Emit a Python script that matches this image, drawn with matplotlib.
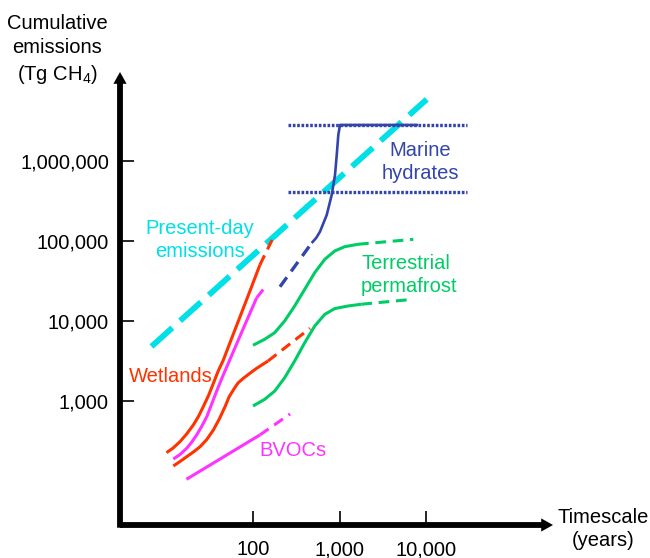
import matplotlib
matplotlib.use('Agg')
import matplotlib.pyplot as plt
from matplotlib.patches import FancyArrowPatch
from matplotlib.ticker import NullLocator

plt.rcParams['font.family'] = ['Liberation Sans', 'DejaVu Sans']
plt.rcParams['mathtext.fontset'] = 'custom'
plt.rcParams['mathtext.rm'] = 'Liberation Sans'
plt.rcParams['mathtext.it'] = 'Liberation Sans:italic'
plt.rcParams['mathtext.bf'] = 'Liberation Sans:bold'

# ---------------- data (timescale in years, cumulative emissions in Tg CH4) -------------
present_t = [6.7, 10200]
present_v = [4800, 5.9e6]

wet_up_t = [10.0, 11.9, 14.3, 17.1, 20.4, 23.4, 26.6, 30.6, 34.8, 39.4, 45.4, 55.7, 75.8, 93.1, 120]
wet_up_v = [226, 258, 310, 387, 501, 640, 849, 1170, 1660, 2340, 3250, 5790, 13700, 24400, 50100]
wet_up_ext_t = [120, 166]
wet_up_ext_v = [50100, 103000]

wet_lo_t = [12, 14.3, 17.1, 20.4, 24.4, 29.2, 34.8, 40.5, 47.5, 52.8, 59.1, 63.5, 67.1, 77.2, 92, 110, 149]
wet_lo_v = [154, 175, 201, 230, 268, 330, 434, 587, 849, 1120, 1370, 1540, 1680, 1920, 2220, 2560, 3160]
wet_lo_ext_t = [149, 456]
wet_lo_ext_v = [3160, 8110]

mag_up_t = [12.0, 14.3, 17.1, 19.6, 22.3, 25.5, 29.2, 33.3, 38.0, 43.8, 51.4, 70.8, 110]
mag_up_v = [188, 214, 256, 307, 376, 480, 636, 917, 1330, 1940, 2900, 6490, 19400]
mag_up_ext_t = [110, 141]
mag_up_ext_v = [19400, 27400]

bvoc_t = [17, 120]
bvoc_v = [105, 376]
bvoc_ext_t = [120, 268]
bvoc_ext_v = [376, 688]

perm_up_t = [100, 136.5, 178, 232, 303, 396, 517, 675, 880, 1148, 1636]
perm_up_v = [4970, 5910, 7140, 10000, 15400, 24900, 40200, 59000, 75000, 84900, 91000]
perm_up_ext_t = [1636, 7130]
perm_up_ext_v = [91000, 105000]

perm_lo_t = [100, 136.5, 178, 232, 303, 396, 517, 675, 880, 1254, 1786]
perm_lo_v = [866, 1050, 1330, 1950, 3160, 5350, 8660, 12100, 14300, 15400, 16200]
perm_lo_ext_t = [1786, 7130]
perm_lo_ext_v = [16200, 18700]

hyd_ext_t = [205, 477]
hyd_ext_v = [26800, 94400]
hyd_t = [477, 540, 595, 711, 812, 887, 929, 968, 1013, 8090]
hyd_v = [94400, 110000, 131000, 211000, 376000, 668000, 1.19e6, 2.11e6, 2.82e6, 2.82e6]

hyd_bound_t = [254, 29800]
hyd_bound_upper = 2.82e6
hyd_bound_lower = 4.06e5

x_ticks = [100, 1000, 10000]
x_labels = ['100', '1,000', '10,000']
y_ticks = [1e3, 1e4, 1e5, 1e6]
y_labels = ['1,000', '10,000', '100,000', '1,000,000']

# ---------------- colours ----------------
RED = '#FF3300'
MAG = '#FF33FF'
CYAN = '#00E0E6'
BLUE = '#3345AA'
GREEN = '#00CC66'

W, H = 650, 558
fig = plt.figure(figsize=(W / 100, H / 100), dpi=100)
ax = fig.add_axes([120 / W, (H - 525) / H, (553 - 120) / W, (525 - 72) / H])
ax.set_xscale('log')
ax.set_yscale('log')
ax.set_xlim(10 ** 0.4624, 10 ** 5.468)
ax.set_ylim(10 ** 1.45, 10 ** 7.1125)
for s in ax.spines.values():
    s.set_visible(False)
ax.patch.set_alpha(0)

fs = 14.5
ax.set_xticks(x_ticks)
ax.set_xticklabels(x_labels)
ax.set_yticks(y_ticks)
ax.set_yticklabels(y_labels)
ax.xaxis.set_minor_locator(NullLocator())
ax.yaxis.set_minor_locator(NullLocator())
ax.tick_params(axis='both', direction='in', length=10, width=1.2, labelsize=fs,
               colors='black')
ax.tick_params(axis='x', pad=11)
ax.tick_params(axis='y', pad=8)

# axes arrows
for start, end in [((0, -0.006), (0, 1)), ((0, 0), (1, 0))]:
    arr = FancyArrowPatch(start, end, transform=ax.transAxes, clip_on=False,
                          arrowstyle='Simple,tail_width=0.42,head_width=0.95,head_length=0.85',
                          mutation_scale=10, color='black', lw=0, shrinkA=0, shrinkB=0)
    ax.add_patch(arr)

lw = 2.2
dash = (3.5, 2.2)
kw = dict(solid_joinstyle='round', solid_capstyle='butt')

# present-day emissions
ax.plot(present_t, present_v, color=CYAN, lw=4.2, dashes=(4.8, 1.8),
        dash_capstyle='butt')

# marine hydrates bounds (dotted)
for v in (hyd_bound_upper, hyd_bound_lower):
    ax.plot(hyd_bound_t, [v, v], color=BLUE, lw=2.4, dashes=(0.8, 0.5),
            dash_capstyle='butt')
ax.plot(hyd_ext_t, hyd_ext_v, color=BLUE, lw=2.4, dashes=dash, dash_capstyle='butt')
ax.plot(hyd_t, hyd_v, color=BLUE, lw=1.9, **kw)

# wetlands
ax.plot(wet_up_t, wet_up_v, color=RED, lw=lw, **kw)
ax.plot(wet_up_ext_t, wet_up_ext_v, color=RED, lw=lw, dashes=dash, dash_capstyle='butt')
ax.plot(wet_lo_t, wet_lo_v, color=RED, lw=lw, **kw)
ax.plot(wet_lo_ext_t, wet_lo_ext_v, color=RED, lw=lw, dashes=dash, dash_capstyle='butt')

# magenta
ax.plot(mag_up_t, mag_up_v, color=MAG, lw=lw, **kw)
ax.plot(mag_up_ext_t, mag_up_ext_v, color=MAG, lw=lw, dashes=dash, dash_capstyle='butt')
ax.plot(bvoc_t, bvoc_v, color=MAG, lw=lw, **kw)
ax.plot(bvoc_ext_t, bvoc_ext_v, color=MAG, lw=lw, dashes=dash, dash_capstyle='butt')

# permafrost
ax.plot(perm_up_t, perm_up_v, color=GREEN, lw=lw, **kw)
ax.plot(perm_up_ext_t, perm_up_ext_v, color=GREEN, lw=lw, dashes=dash, dash_capstyle='butt')
ax.plot(perm_lo_t, perm_lo_v, color=GREEN, lw=lw, **kw)
ax.plot(perm_lo_ext_t, perm_lo_ext_v, color=GREEN, lw=lw, dashes=dash, dash_capstyle='butt')

# labels
ls2 = 1.32
ax.text(24.4, 1.03e5, 'Present-day\nemissions', color=CYAN, fontsize=fs,
        ha='center', va='center', linespacing=ls2)
ax.text(8530, 9.72e5, 'Marine\nhydrates', color=BLUE, fontsize=fs,
        ha='center', va='center', linespacing=ls2)
ax.text(1773, 3.76e4, 'Terrestrial\npermafrost', color=GREEN, fontsize=fs,
        ha='left', va='center', linespacing=1.22)
ax.text(3.68, 2000, 'Wetlands', color=RED, fontsize=fs, ha='left', va='center')
ax.text(117, 244, 'BVOCs', color=MAG, fontsize=fs, ha='left', va='center')

fig.text(57 / W, 1 - 50 / H, 'Cumulative\nemissions\n(Tg CH$_4$)', fontsize=14.5,
         ha='center', va='center', linespacing=1.35)
fig.text(603 / W, 1 - 529 / H, 'Timescale\n(years)', fontsize=fs,
         ha='center', va='center', linespacing=1.3)

fig.savefig('out.png', dpi=100)
